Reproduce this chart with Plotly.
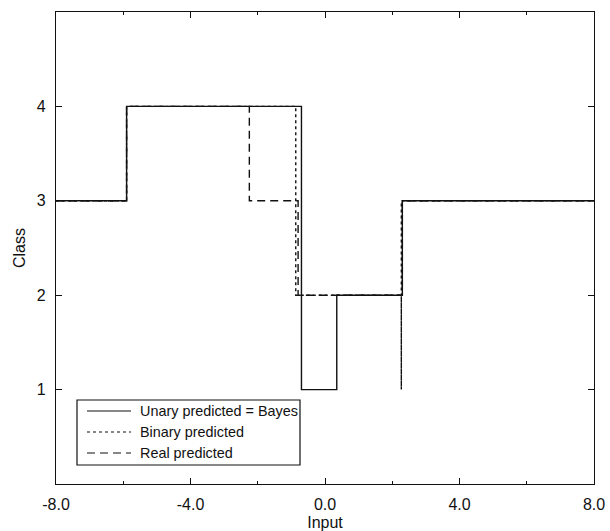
import plotly.graph_objects as go

# Step-function breakpoints for each predictor (class value holds until next x)
unary_x = [-8.0, -5.9, -0.7, 0.35, 2.3, 8.0]
unary_y = [3, 4, 1, 2, 3, 3]

binary_x = [-8.0, -5.9, -0.87, 2.27, 2.27, 8.0]
binary_y = [3, 4, 2, 1, 3, 3]

real_x = [-8.0, -5.9, -2.25, -0.8, 2.3, 8.0]
real_y = [3, 4, 3, 2, 3, 3]

series_names = ["Unary predicted = Bayes", "Binary predicted", "Real predicted"]

x_ticks = [-8, -4, 0, 4, 8]
x_ticktext = ["-8.0", "-4.0", "0.0", "4.0", "8.0"]
y_ticks = [1, 2, 3, 4]

FONT = "Liberation Sans, Arial, Helvetica, sans-serif"
INK = "#111111"
DASHES = ["solid", "dot", "8px,5px"]

W, H = 610, 531
ML, MR, MT, MB = 56, 16, 12, 47
PW, PH = W - ML - MR, H - MT - MB


def px_to_paper(px, py):
    return (px - ML) / PW, (H - MB - py) / PH


fig = go.Figure()
for xs, ys, name, dash in zip([unary_x, binary_x, real_x],
                              [unary_y, binary_y, real_y],
                              series_names, DASHES):
    fig.add_trace(go.Scatter(x=xs, y=ys, mode="lines", line_shape="hv",
                             name=name, showlegend=False,
                             line=dict(color=INK, width=1.4, dash=dash)))

# Boxed key in the lower-left corner of the plotting area
x0, y0 = px_to_paper(77, 400)
x1, y1 = px_to_paper(300, 465)
fig.add_shape(type="rect", xref="paper", yref="paper", x0=x0, y0=y1, x1=x1, y1=y0,
              line=dict(color=INK, width=1.2), fillcolor="white", layer="above")
for i, (name, dash) in enumerate(zip(series_names, DASHES)):
    row_y = 411 + i * 21
    lx0, ly = px_to_paper(87, row_y)
    lx1, _ = px_to_paper(131, row_y)
    fig.add_shape(type="line", xref="paper", yref="paper", x0=lx0, x1=lx1,
                  y0=ly, y1=ly, line=dict(color=INK, width=1.2, dash=dash),
                  layer="above")
    tx, _ = px_to_paper(138, row_y)
    fig.add_annotation(x=tx, y=ly, xref="paper", yref="paper", text=name,
                       showarrow=False, xanchor="left", yanchor="middle",
                       font=dict(family=FONT, size=14.4, color=INK))

fig.update_layout(
    width=W, height=H,
    margin=dict(l=ML, r=MR, t=MT, b=MB),
    paper_bgcolor="white", plot_bgcolor="white",
    font=dict(family=FONT, size=16, color=INK),
    showlegend=False,
)
fig.update_xaxes(range=[-8, 8], tickvals=x_ticks, ticktext=x_ticktext,
                 automargin=False,
                 showgrid=False, zeroline=False, showline=True, linecolor=INK,
                 linewidth=1.2, mirror="ticks", ticks="inside", ticklen=6,
                 tickcolor=INK, ticklabelstandoff=6,
                 minor=dict(dtick=2, ticks="inside", ticklen=3,
                            tickcolor=INK, showgrid=False),
                 title=dict(text="Input", standoff=4, font=dict(size=16)))
fig.update_yaxes(range=[0, 5], tickvals=y_ticks, automargin=False,
                 showgrid=False, zeroline=False, showline=True, linecolor=INK,
                 linewidth=1.2, mirror="ticks", ticks="inside", ticklen=6,
                 tickcolor=INK, ticklabelstandoff=6,
                 title=dict(text="Class", standoff=7, font=dict(size=16)))

fig.write_html("out.html")
